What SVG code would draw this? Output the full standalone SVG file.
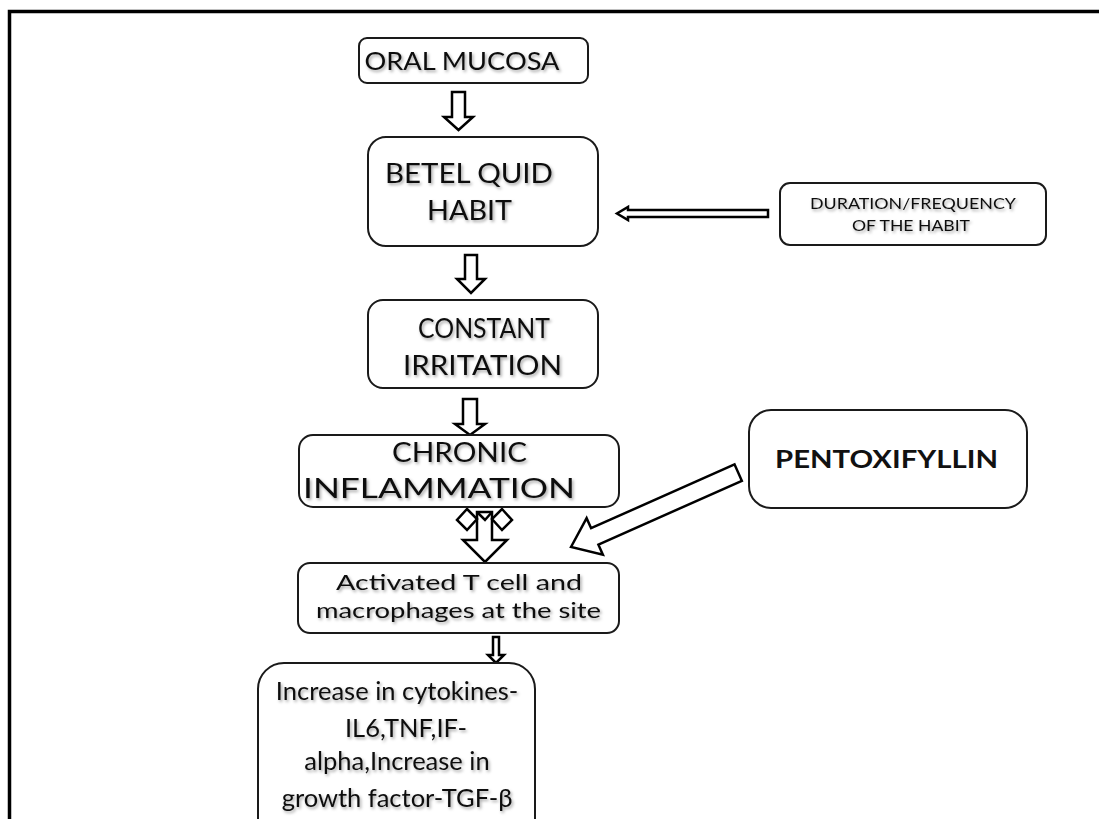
<svg xmlns="http://www.w3.org/2000/svg" width="1099" height="819" viewBox="0 0 1099 819">
<defs>
<style>
.box{fill:#fff;stroke:#1a1a1a;stroke-width:2}
.t{font-family:Lato,"Open Sans","Liberation Sans",sans-serif;fill:#111;text-anchor:middle}
.arr{fill:#fff;stroke:#000;stroke-width:2.5;stroke-linejoin:miter}
</style>
<filter id="sh" x="-10%" y="-30%" width="120%" height="160%">
<feDropShadow dx="1.5" dy="2" stdDeviation="1.5" flood-color="#000" flood-opacity="0.35"/>
</filter>
</defs>
<rect width="1099" height="819" fill="#fff"/>
<rect x="9.5" y="11.5" width="1200" height="900" fill="none" stroke="#000" stroke-width="3.5"/>

<g id="connectors">
<polygon class="arr" points="452,92 465,92 465,117 473,117 458.5,130 444,117 452,117"/>
<polygon class="arr" points="465,255 477,255 477,279 485,279 471,293 457,279 465,279"/>
<polygon class="arr" points="463,399 477,399 477,424 485,424 470,435 455,424 463,424"/>
<polygon class="arr" points="768,210 628,210 628,207 617,213.5 628,220 628,217 768,217" stroke-width="2"/>
<polygon class="arr" transform="translate(571,547) rotate(-24)" points="0,0 26,-20 26,-9 183,-9 183,9 26,9 26,20"/>
<g id="cross">
<polygon class="arr" points="477,512 492,512 492,540 507,540 485,562 463,540 477,540"/>
<polygon class="arr" points="467,509 477,519 467,530 457,520"/>
<polygon class="arr" points="502,509 512,520 502,530 492,519"/>
<polyline points="477,512 485,520 492,512" fill="none" stroke="#000" stroke-width="2.5"/>
</g>
<polygon class="arr" points="493,637 499,637 499,655 504,655 496,663 488,655 493,655" stroke-width="2"/>
</g>

<g id="oral-mucosa">
<rect class="box" x="359" y="38" width="229" height="45" rx="8"/>
<text class="t" x="462" y="70" font-size="25" textLength="195" lengthAdjust="spacingAndGlyphs" filter="url(#sh)">ORAL MUCOSA</text>
</g>

<g id="betel-quid">
<rect class="box" x="368" y="137" width="230" height="109" rx="18"/>
<text class="t" x="469" y="183" font-size="26" textLength="168" lengthAdjust="spacingAndGlyphs" filter="url(#sh)">BETEL QUID</text>
<text class="t" x="469.5" y="220" font-size="26" textLength="85" lengthAdjust="spacingAndGlyphs" filter="url(#sh)">HABIT</text>
</g>

<g id="duration">
<rect class="box" x="780" y="183" width="266" height="62" rx="10"/>
<text class="t" x="913" y="209" font-size="14.5" textLength="206" lengthAdjust="spacingAndGlyphs" filter="url(#sh)">DURATION/FREQUENCY</text>
<text class="t" x="911" y="231" font-size="14.5" textLength="118" lengthAdjust="spacingAndGlyphs" filter="url(#sh)">OF THE HABIT</text>
</g>

<g id="constant-irritation">
<rect class="box" x="368" y="300" width="230" height="88" rx="15"/>
<text class="t" x="484" y="338" font-size="26" textLength="132" lengthAdjust="spacingAndGlyphs" filter="url(#sh)">CONSTANT</text>
<text class="t" x="482.5" y="375" font-size="26" textLength="159" lengthAdjust="spacingAndGlyphs" filter="url(#sh)">IRRITATION</text>
</g>

<g id="chronic-inflammation">
<rect class="box" x="299" y="435" width="320" height="72" rx="14"/>
<text class="t" x="459.5" y="462" font-size="26" textLength="135" lengthAdjust="spacingAndGlyphs" filter="url(#sh)">CHRONIC</text>
<text class="t" x="439" y="498" font-size="26" textLength="272" lengthAdjust="spacingAndGlyphs" filter="url(#sh)">INFLAMMATION</text>
</g>

<g id="pentoxifyllin">
<rect class="box" x="749" y="410" width="278" height="98" rx="22" stroke-width="3"/>
<text class="t" x="886.5" y="468" font-size="25" font-weight="bold" textLength="223" lengthAdjust="spacingAndGlyphs">PENTOXIFYLLIN</text>
</g>

<g id="activated">
<rect class="box" x="298" y="563" width="321" height="70" rx="12"/>
<text class="t" x="459" y="590" font-size="20.5" textLength="246" lengthAdjust="spacingAndGlyphs" filter="url(#sh)">Activated T cell and</text>
<text class="t" x="458.5" y="618" font-size="20.5" textLength="285" lengthAdjust="spacingAndGlyphs" filter="url(#sh)">macrophages at the site</text>
</g>

<g id="cytokines">
<rect class="box" x="258" y="663" width="277" height="200" rx="26"/>
<text class="t" x="397" y="700" font-size="25.5" filter="url(#sh)">Increase in cytokines-</text>
<text class="t" x="406" y="737" font-size="25.5" filter="url(#sh)">IL6,TNF,IF-</text>
<text class="t" x="397" y="770" font-size="25.5" filter="url(#sh)">alpha,Increase in</text>
<text class="t" x="397" y="807" font-size="25.5" filter="url(#sh)">growth factor-TGF-β</text>
</g>
</svg>
